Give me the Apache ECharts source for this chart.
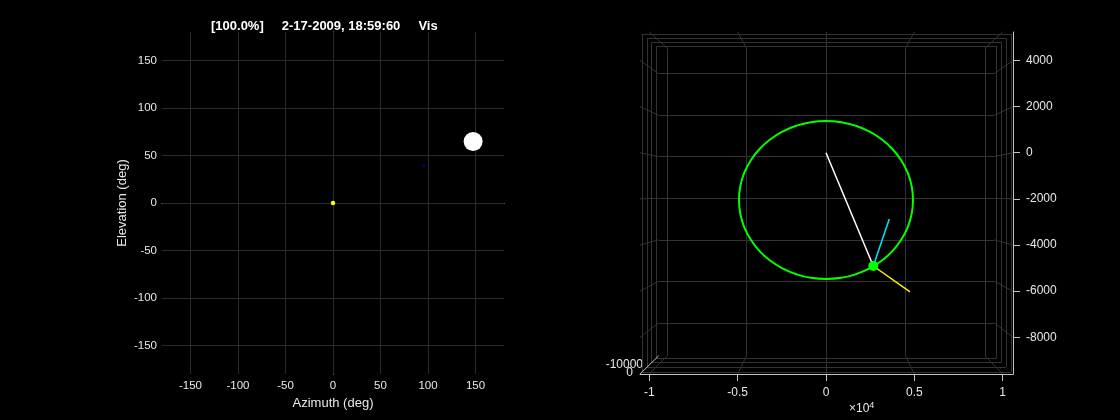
<!DOCTYPE html>
<html><head><meta charset="utf-8">
<script src="https://cdn.jsdelivr.net/npm/echarts@6/dist/echarts.min.js"></script>
<style>html,body{margin:0;padding:0;background:#000}#c{width:1120px;height:420px}</style>
</head><body><div id="c"></div>
<script>
// ---------- data ----------
const titleText = '[100.0%]     2-17-2009, 18:59:60     Vis';
const azTicks = [-150, -100, -50, 0, 50, 100, 150];
const elTicks = [-150, -100, -50, 0, 50, 100, 150];
const targetAzEl = [0, 0];
const faintAzEl = [95.7, 39.3];
const sunAzEl = [147.5, 64.7];

const xTicksKm = [-10000, -5000, 0, 5000, 10000];
const yTicksKm = [-8000, -6000, -4000, -2000, 0, 2000, 4000];
const zTickLabels = ['-10000', '0'];
const orbitX = [4924, 4850, 4629, 4264, 3772, 3166, 2462, 1684, 857, 0, -857, -1684, -2462, -3166, -3772, -4264, -4629, -4850,
                -4924, -4850, -4629, -4264, -3772, -3166, -2462, -1684, -857, 0, 857, 1684, 2462, 3166, 3772, 4264, 4629, 4850, 4924];
const orbitY = [-2050, -1454, -879, -338, 151, 572, 914, 1167, 1322, 1373, 1322, 1167, 914, 572, 151, -338, -879, -1454,
                -2050, -2646, -3221, -3762, -4251, -4672, -5014, -5267, -5422, -5473, -5422, -5267, -5014, -4672, -4251, -3762, -3221, -2646, -2050];
const earthCenter = [0, 0];
const satellite = [2677, -4909];
const cyanTip = [3582, -2873];
const yellowTip = [4754, -6035];

// ---------- layout / 3-D box geometry ----------
const X0 = -10526, X1 = 10583, Y0 = -9589, Y1 = 5230;
const wallScales = [0.988, 0.962, 0.937, 0.913];
const floorScale = 0.9;
const vanish = [0, -1746];
function P(x, y, s) { return [vanish[0] + s * (x - vanish[0]), vanish[1] + s * (y - vanish[1])]; }

const boxSegs = [];
wallScales.forEach(s => {
  const a = P(X0, Y0, s), b = P(X1, Y0, s), c = P(X1, Y1, s), d = P(X0, Y1, s);
  boxSegs.push([a, b], [b, c], [c, d], [d, a]);
});
xTicksKm.forEach(x => {
  boxSegs.push([P(x, Y1, floorScale), P(x, Y0, floorScale)]);
  boxSegs.push([[x, Y1], P(x, Y1, floorScale)]);
  boxSegs.push([[x, Y0], P(x, Y0, floorScale)]);
});
yTicksKm.forEach(y => {
  boxSegs.push([P(X0, y, floorScale), P(X1, y, floorScale)]);
  boxSegs.push([[X0, y], P(X0, y, floorScale)]);
  boxSegs.push([[X1, y], P(X1, y, floorScale)]);
});
const zAxisSeg = [[[X0, Y0], P(X0, Y0, floorScale)]];

const leftGridSegs = [];
azTicks.forEach(a => leftGridSegs.push([[a, -180], [a, 180]]));
elTicks.forEach(e => leftGridSegs.push([[-180, e], [180, e]]));

// ---------- styles ----------
const FONT = '"Liberation Sans", Arial, Helvetica, sans-serif';
const AXIS_C = '#c4c4c4', LABEL_C = '#e8e8e8', GRID_C = '#2b2b2b', BOX_C = '#333333';

const chart = echarts.init(document.getElementById('c'));
chart.setOption({
  backgroundColor: '#000',
  animation: false,
  textStyle: { fontFamily: FONT },
  title: { text: titleText, left: 206, top: 15,
    textStyle: { color: '#ffffff', fontSize: 13, fontWeight: 'bold', fontFamily: FONT } },
  grid: [
    { left: 162, right: 616, top: 32, bottom: 46 },
    { left: 640, right: 107, top: 32, bottom: 46 }
  ],
  xAxis: [
    { type: 'value', gridIndex: 0, min: -180, max: 180,
      name: 'Azimuth (deg)', nameLocation: 'middle', nameGap: 22,
      nameTextStyle: { color: LABEL_C, fontSize: 13, fontFamily: FONT },
      axisLine: { show: true, lineStyle: { color: AXIS_C, width: 1 } },
      axisTick: { show: true, inside: true, length: 4, customValues: azTicks, lineStyle: { color: AXIS_C } },
      axisLabel: { customValues: azTicks, color: LABEL_C, fontSize: 11.5, margin: 6, fontFamily: FONT,
        formatter: v => String(v) },
      splitLine: { show: false } },
    { type: 'value', gridIndex: 1, min: X0, max: X1, position: 'bottom',
      axisLine: { show: true, onZero: false, lineStyle: { color: AXIS_C, width: 1 } },
      axisTick: { show: true, inside: false, length: 7, customValues: xTicksKm, lineStyle: { color: AXIS_C } },
      axisLabel: { customValues: xTicksKm, color: LABEL_C, fontSize: 12, margin: 13, fontFamily: FONT,
        formatter: v => String(v / 10000) },
      splitLine: { show: false } }
  ],
  yAxis: [
    { type: 'value', gridIndex: 0, min: -180, max: 180,
      name: 'Elevation (deg)', nameLocation: 'middle', nameGap: 33,
      nameTextStyle: { color: LABEL_C, fontSize: 13, fontFamily: FONT },
      axisLine: { show: true, lineStyle: { color: AXIS_C, width: 1 } },
      axisTick: { show: true, inside: true, length: 4, customValues: elTicks, lineStyle: { color: AXIS_C } },
      axisLabel: { customValues: elTicks, color: LABEL_C, fontSize: 11.5, margin: 5, fontFamily: FONT,
        formatter: v => String(v) },
      splitLine: { show: false } },
    { type: 'value', gridIndex: 1, min: Y0, max: Y1, position: 'right',
      axisLine: { show: true, onZero: false, lineStyle: { color: AXIS_C, width: 1 } },
      axisTick: { show: true, inside: false, length: 7, customValues: yTicksKm, lineStyle: { color: AXIS_C } },
      axisLabel: { customValues: yTicksKm, color: LABEL_C, fontSize: 12, margin: 13, fontFamily: FONT,
        formatter: v => String(v) },
      splitLine: { show: false } }
  ],
  graphic: [
    { type: 'text', left: 849, top: 401, silent: true,
      style: { text: '{a|×10}{b|4}', fill: LABEL_C,
        rich: { a: { fontSize: 12, fontFamily: FONT, fill: LABEL_C, verticalAlign: 'bottom', lineHeight: 14 },
                b: { fontSize: 9, fontFamily: FONT, fill: LABEL_C, verticalAlign: 'top', lineHeight: 14 } } } },
    { type: 'text', right: 1120 - 643, top: 359, silent: true,
      style: { text: zTickLabels[0], fill: LABEL_C, fontSize: 12, fontFamily: FONT, align: 'right' } },
    { type: 'text', right: 1120 - 633, top: 367, silent: true,
      style: { text: zTickLabels[1], fill: LABEL_C, fontSize: 12, fontFamily: FONT, align: 'right' } }
  ],
  series: [
    { type: 'lines', coordinateSystem: 'cartesian2d', xAxisIndex: 0, yAxisIndex: 0, silent: true, z: 1,
      lineStyle: { color: GRID_C, width: 1, opacity: 1 },
      data: leftGridSegs.map(c => ({ coords: c })) },
    { type: 'scatter', xAxisIndex: 0, yAxisIndex: 0, symbolSize: 4.5, z: 5,
      itemStyle: { color: '#ffff00', opacity: 1 }, data: [targetAzEl] },
    { type: 'scatter', xAxisIndex: 0, yAxisIndex: 0, symbolSize: 2.5, z: 5,
      itemStyle: { color: '#0000a0', opacity: 1 }, data: [faintAzEl] },
    { type: 'scatter', xAxisIndex: 0, yAxisIndex: 0, symbolSize: 19, z: 5,
      itemStyle: { color: '#ffffff', opacity: 1 }, data: [sunAzEl] },

    { type: 'lines', coordinateSystem: 'cartesian2d', xAxisIndex: 1, yAxisIndex: 1, silent: true, z: 1,
      lineStyle: { color: BOX_C, width: 1, opacity: 1 },
      data: boxSegs.map(c => ({ coords: c })) },
    { type: 'lines', coordinateSystem: 'cartesian2d', xAxisIndex: 1, yAxisIndex: 1, silent: true, z: 2,
      lineStyle: { color: AXIS_C, width: 1, opacity: 1 },
      data: zAxisSeg.map(c => ({ coords: c })) },
    { type: 'line', xAxisIndex: 1, yAxisIndex: 1, smooth: 0.5, showSymbol: false, symbol: 'none', z: 3,
      lineStyle: { color: '#00ff00', width: 2 },
      data: orbitX.map((x, i) => [x, orbitY[i]]) },
    { type: 'line', xAxisIndex: 1, yAxisIndex: 1, symbol: 'none', z: 4,
      lineStyle: { color: '#ffffff', width: 1.5 }, data: [earthCenter, satellite] },
    { type: 'line', xAxisIndex: 1, yAxisIndex: 1, symbol: 'none', z: 4,
      lineStyle: { color: '#00e5ff', width: 1.5 }, data: [satellite, cyanTip] },
    { type: 'line', xAxisIndex: 1, yAxisIndex: 1, symbol: 'none', z: 4,
      lineStyle: { color: '#ffee00', width: 1.5 }, data: [satellite, yellowTip] },
    { type: 'scatter', xAxisIndex: 1, yAxisIndex: 1, symbolSize: 10, z: 6,
      itemStyle: { color: '#00ff00', opacity: 1 }, data: [satellite] }
  ]
});
</script>
</body></html>
